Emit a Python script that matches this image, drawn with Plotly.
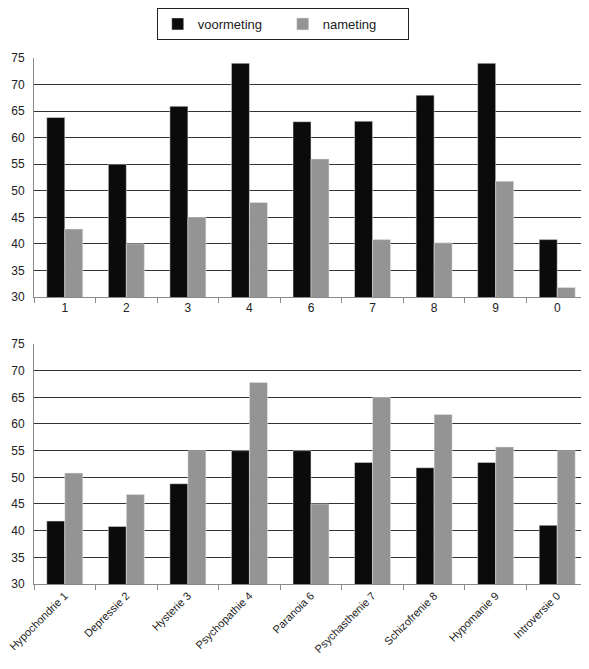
import plotly.graph_objects as go

# top chart: scale codes
codes = ['1', '2', '3', '4', '6', '7', '8', '9', '0']
voor_top = [63.8, 55.0, 65.9, 74.0, 63.0, 63.1, 68.0, 74.0, 40.8]
na_top = [42.8, 40.0, 45.0, 47.8, 56.0, 40.8, 40.2, 51.8, 31.8]

# bottom chart: scale names
scales = ['Hypochondrie 1', 'Depressie 2', 'Hysterie 3', 'Psychopathie 4', 'Paranoia 6',
          'Psychasthenie 7', 'Schizofrenie 8', 'Hypomanie 9', 'Introversie 0']
voor_bot = [41.8, 40.8, 48.8, 55.0, 55.0, 52.8, 51.8, 52.8, 41.0]
na_bot = [50.8, 46.8, 55.0, 67.8, 45.0, 65.0, 61.8, 55.7, 55.0]

black = '#0b0b0b'
grey = '#949494'

fig = go.Figure()
fig.add_trace(go.Bar(x=codes, y=voor_top, name='voormeting', marker_color=black,
                     xaxis='x', yaxis='y'))
fig.add_trace(go.Bar(x=codes, y=na_top, name='nameting', marker_color=grey,
                     xaxis='x', yaxis='y'))
fig.add_trace(go.Bar(x=scales, y=voor_bot, name='voormeting', marker_color=black,
                     xaxis='x2', yaxis='y2', showlegend=False))
fig.add_trace(go.Bar(x=scales, y=na_bot, name='nameting', marker_color=grey,
                     xaxis='x2', yaxis='y2', showlegend=False))

yax = dict(range=[30, 75], dtick=5, showgrid=True, gridcolor='#333333', gridwidth=1,
           showline=True, linecolor='#8a8a8a', linewidth=1, zeroline=False,
           tickfont=dict(size=12, color='#222'), ticks='', ticklabelstandoff=6,
           automargin=False)
xax = dict(type='category', tickson='boundaries', ticks='outside', ticklen=5,
           tickcolor='#8a8a8a', showline=True, linecolor='#8a8a8a', linewidth=1,
           showgrid=False, tickfont=dict(size=12, color='#222'), domain=[0, 1],
           automargin=False)

# page body adds 8px around the figure, so the figure is 8px smaller
fig.update_layout(
    width=581, height=661,
    margin=dict(l=26, r=1, t=0, b=0, autoexpand=False),
    paper_bgcolor='white', plot_bgcolor='white',
    font=dict(family='Liberation Sans, Arial, sans-serif', size=12, color='#222'),
    barmode='group', bargap=0.415, bargroupgap=0,
    xaxis=dict(xax, anchor='y'),
    yaxis=dict(yax, domain=[0.5628, 0.9244], anchor='x'),
    xaxis2=dict(xax, anchor='y2', tickangle=-45, tickfont=dict(size=11, color='#222')),
    yaxis2=dict(yax, domain=[0.1286, 0.4917], anchor='x2'),
    legend=dict(orientation='h', x=0.449, xanchor='center', y=1.0, yanchor='top',
                bordercolor='#222', borderwidth=1, bgcolor='white',
                entrywidth=80, font=dict(size=13)),
    showlegend=True,
)

fig.write_html("out.html")
